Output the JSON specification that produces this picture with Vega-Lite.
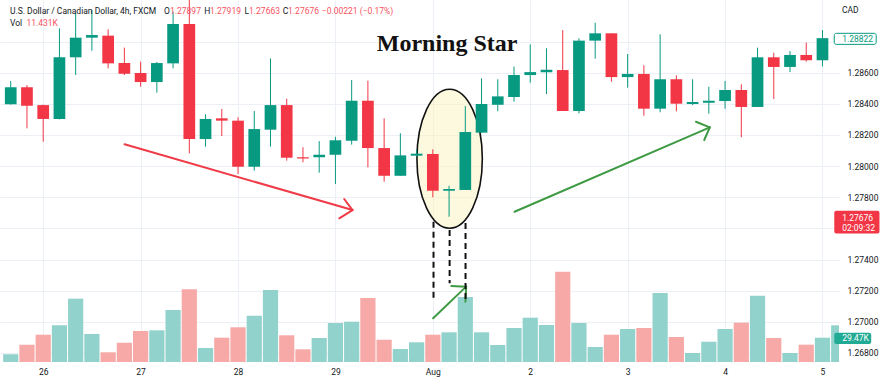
{
  "$schema": "https://vega.github.io/schema/vega-lite/v6.json",
  "width": 839,
  "height": 362,
  "autosize": {"type": "none"},
  "padding": {"left": 0, "top": 0, "right": 49, "bottom": 21},
  "background": "white",
  "config": {"view": {"stroke": null}, "font": "Roboto"},
  "datasets": {
    "candles": [
      {"i": 0, "o": 1.28397, "h": 1.28547, "l": 1.28395, "c": 1.28506, "d": "up"},
      {"i": 1, "o": 1.28506, "h": 1.28521, "l": 1.28243, "c": 1.28388, "d": "down"},
      {"i": 2, "o": 1.28392, "h": 1.28395, "l": 1.28157, "c": 1.28303, "d": "down"},
      {"i": 3, "o": 1.28303, "h": 1.28885, "l": 1.283, "c": 1.28699, "d": "up"},
      {"i": 4, "o": 1.28699, "h": 1.28985, "l": 1.28585, "c": 1.28825, "d": "up"},
      {"i": 5, "o": 1.28825, "h": 1.29003, "l": 1.28741, "c": 1.28842, "d": "up"},
      {"i": 6, "o": 1.28838, "h": 1.28879, "l": 1.28628, "c": 1.2866, "d": "down"},
      {"i": 7, "o": 1.28662, "h": 1.28761, "l": 1.28585, "c": 1.28594, "d": "down"},
      {"i": 8, "o": 1.28598, "h": 1.28671, "l": 1.2851, "c": 1.2854, "d": "down"},
      {"i": 9, "o": 1.2854, "h": 1.28669, "l": 1.28472, "c": 1.28662, "d": "up"},
      {"i": 10, "o": 1.2866, "h": 1.28992, "l": 1.28628, "c": 1.28913, "d": "up"},
      {"i": 11, "o": 1.28913, "h": 1.2908, "l": 1.28082, "c": 1.28174, "d": "down"},
      {"i": 12, "o": 1.28174, "h": 1.28333, "l": 1.28125, "c": 1.28303, "d": "up"},
      {"i": 13, "o": 1.28307, "h": 1.28367, "l": 1.28193, "c": 1.28292, "d": "down"},
      {"i": 14, "o": 1.28292, "h": 1.28314, "l": 1.27949, "c": 1.27996, "d": "down"},
      {"i": 15, "o": 1.27996, "h": 1.28354, "l": 1.27971, "c": 1.28238, "d": "up"},
      {"i": 16, "o": 1.28234, "h": 1.28692, "l": 1.28125, "c": 1.28392, "d": "up"},
      {"i": 17, "o": 1.28392, "h": 1.28433, "l": 1.28035, "c": 1.28054, "d": "down"},
      {"i": 18, "o": 1.28057, "h": 1.28121, "l": 1.28025, "c": 1.28049, "d": "down"},
      {"i": 19, "o": 1.28057, "h": 1.28161, "l": 1.27958, "c": 1.28073, "d": "up"},
      {"i": 20, "o": 1.28073, "h": 1.28189, "l": 1.27885, "c": 1.28166, "d": "up"},
      {"i": 21, "o": 1.28163, "h": 1.28553, "l": 1.28138, "c": 1.2842, "d": "up"},
      {"i": 22, "o": 1.2842, "h": 1.28549, "l": 1.27992, "c": 1.28116, "d": "down"},
      {"i": 23, "o": 1.28116, "h": 1.28307, "l": 1.279, "c": 1.27938, "d": "down"},
      {"i": 24, "o": 1.27938, "h": 1.28211, "l": 1.27938, "c": 1.28069, "d": "up"},
      {"i": 25, "o": 1.28067, "h": 1.28108, "l": 1.2806, "c": 1.2808, "d": "up"},
      {"i": 26, "o": 1.28078, "h": 1.28108, "l": 1.278, "c": 1.27842, "d": "down"},
      {"i": 27, "o": 1.27842, "h": 1.27874, "l": 1.27675, "c": 1.27853, "d": "up"},
      {"i": 28, "o": 1.27847, "h": 1.28386, "l": 1.27847, "c": 1.28219, "d": "up"},
      {"i": 29, "o": 1.28215, "h": 1.28564, "l": 1.28215, "c": 1.28399, "d": "up"},
      {"i": 30, "o": 1.28394, "h": 1.28558, "l": 1.28352, "c": 1.28448, "d": "up"},
      {"i": 31, "o": 1.28444, "h": 1.28639, "l": 1.28414, "c": 1.28585, "d": "up"},
      {"i": 32, "o": 1.28585, "h": 1.28782, "l": 1.28536, "c": 1.28604, "d": "up"},
      {"i": 33, "o": 1.28603, "h": 1.28757, "l": 1.28463, "c": 1.28619, "d": "up"},
      {"i": 34, "o": 1.28617, "h": 1.28874, "l": 1.28354, "c": 1.28354, "d": "down"},
      {"i": 35, "o": 1.28354, "h": 1.28821, "l": 1.28339, "c": 1.28806, "d": "up"},
      {"i": 36, "o": 1.28806, "h": 1.28921, "l": 1.2869, "c": 1.28853, "d": "up"},
      {"i": 37, "o": 1.28853, "h": 1.28853, "l": 1.28542, "c": 1.28572, "d": "down"},
      {"i": 38, "o": 1.28572, "h": 1.2872, "l": 1.28504, "c": 1.28592, "d": "up"},
      {"i": 39, "o": 1.28592, "h": 1.28648, "l": 1.28324, "c": 1.28369, "d": "down"},
      {"i": 40, "o": 1.28369, "h": 1.28847, "l": 1.28346, "c": 1.28558, "d": "up"},
      {"i": 41, "o": 1.28558, "h": 1.28583, "l": 1.28352, "c": 1.28401, "d": "down"},
      {"i": 42, "o": 1.28399, "h": 1.28558, "l": 1.28392, "c": 1.28412, "d": "up"},
      {"i": 43, "o": 1.28407, "h": 1.2851, "l": 1.28337, "c": 1.2842, "d": "up"},
      {"i": 44, "o": 1.28418, "h": 1.28547, "l": 1.28369, "c": 1.28489, "d": "up"},
      {"i": 45, "o": 1.28489, "h": 1.28526, "l": 1.28185, "c": 1.2838, "d": "down"},
      {"i": 46, "o": 1.2838, "h": 1.28761, "l": 1.2838, "c": 1.28699, "d": "up"},
      {"i": 47, "o": 1.28699, "h": 1.28728, "l": 1.28431, "c": 1.28637, "d": "down"},
      {"i": 48, "o": 1.28637, "h": 1.28739, "l": 1.28604, "c": 1.28714, "d": "up"},
      {"i": 49, "o": 1.28714, "h": 1.28793, "l": 1.28671, "c": 1.2868, "d": "down"},
      {"i": 50, "o": 1.2868, "h": 1.28874, "l": 1.28641, "c": 1.28822, "d": "up"}
    ],
    "volume": [
      {"i": 0, "v": 9.3, "d": "up"}, {"i": 1, "v": 21.0, "d": "down"}, {"i": 2, "v": 33.1, "d": "down"},
      {"i": 3, "v": 44.5, "d": "up"}, {"i": 4, "v": 76.8, "d": "up"}, {"i": 5, "v": 34.0, "d": "up"},
      {"i": 6, "v": 11.8, "d": "down"}, {"i": 7, "v": 23.4, "d": "down"}, {"i": 8, "v": 37.6, "d": "down"},
      {"i": 9, "v": 38.4, "d": "up"}, {"i": 10, "v": 63.1, "d": "up"}, {"i": 11, "v": 88.2, "d": "down"},
      {"i": 12, "v": 17.0, "d": "up"}, {"i": 13, "v": 29.5, "d": "down"}, {"i": 14, "v": 42.1, "d": "down"},
      {"i": 15, "v": 56.1, "d": "up"}, {"i": 16, "v": 87.3, "d": "up"}, {"i": 17, "v": 32.4, "d": "down"},
      {"i": 18, "v": 15.4, "d": "down"}, {"i": 19, "v": 29.1, "d": "up"}, {"i": 20, "v": 47.3, "d": "up"},
      {"i": 21, "v": 48.9, "d": "up"}, {"i": 22, "v": 77.6, "d": "down"}, {"i": 23, "v": 27.0, "d": "down"},
      {"i": 24, "v": 15.8, "d": "up"}, {"i": 25, "v": 23.9, "d": "up"}, {"i": 26, "v": 33.1, "d": "down"},
      {"i": 27, "v": 36.0, "d": "up"}, {"i": 28, "v": 78.8, "d": "up"}, {"i": 29, "v": 36.0, "d": "up"},
      {"i": 30, "v": 20.6, "d": "up"}, {"i": 31, "v": 41.2, "d": "up"}, {"i": 32, "v": 53.7, "d": "up"},
      {"i": 33, "v": 44.9, "d": "up"}, {"i": 34, "v": 109.5, "d": "down"}, {"i": 35, "v": 47.3, "d": "up"},
      {"i": 36, "v": 18.2, "d": "up"}, {"i": 37, "v": 33.1, "d": "down"}, {"i": 38, "v": 40.0, "d": "up"},
      {"i": 39, "v": 41.2, "d": "down"}, {"i": 40, "v": 83.7, "d": "up"}, {"i": 41, "v": 30.3, "d": "down"},
      {"i": 42, "v": 10.9, "d": "up"}, {"i": 43, "v": 24.6, "d": "up"}, {"i": 44, "v": 40.0, "d": "up"},
      {"i": 45, "v": 47.7, "d": "down"}, {"i": 46, "v": 80.4, "d": "up"}, {"i": 47, "v": 29.1, "d": "down"},
      {"i": 48, "v": 10.9, "d": "up"}, {"i": 49, "v": 21.0, "d": "down"}, {"i": 50, "v": 29.47, "d": "up"},
      {"i": 51, "v": 44.5, "d": "up"}
    ],
    "arrows": [
      {"i": 7.011, "p": 1.2814, "i2": 21.052, "p2": 1.27718, "k": "red"},
      {"i": 20.54, "p": 1.27789, "i2": 21.052, "p2": 1.27718, "k": "red"},
      {"i": 20.236, "p": 1.27665, "i2": 21.052, "p2": 1.27718, "k": "red"},
      {"i": 31.033, "p": 1.27707, "i2": 43.059, "p2": 1.28249, "k": "green"},
      {"i": 42.207, "p": 1.28285, "i2": 43.059, "p2": 1.28249, "k": "green"},
      {"i": 42.718, "p": 1.28168, "i2": 43.059, "p2": 1.28249, "k": "green"},
      {"i": 26.018, "p": 1.27023, "i2": 28.051, "p2": 1.27226, "k": "green"},
      {"i": 27.138, "p": 1.2723, "i2": 28.051, "p2": 1.27226, "k": "green"},
      {"i": 28.008, "p": 1.27129, "i2": 28.051, "p2": 1.27226, "k": "green"}
    ],
    "dashes": [
      {"i": 26.042, "p": 1.27643, "i2": 26.042, "p2": 1.27145},
      {"i": 27.034, "p": 1.2759, "i2": 27.034, "p2": 1.27247},
      {"i": 28.014, "p": 1.27635, "i2": 28.014, "p2": 1.27129}
    ],
    "texts": [
      {"i": -0.049, "p": 1.28996, "text": "U.S. Dollar / Canadian Dollar, 4h, FXCM", "k": "dark"},
      {"i": 9.445, "p": 1.28996, "text": "O", "k": "dark"},
      {"i": 9.811, "p": 1.28996, "text": "1.27897", "k": "red"},
      {"i": 11.923, "p": 1.28996, "text": "H", "k": "dark"},
      {"i": 12.276, "p": 1.28996, "text": "1.27919", "k": "red"},
      {"i": 14.393, "p": 1.28996, "text": "L", "k": "dark"},
      {"i": 14.68, "p": 1.28996, "text": "1.27663", "k": "red"},
      {"i": 16.749, "p": 1.28996, "text": "C", "k": "dark"},
      {"i": 17.084, "p": 1.28996, "text": "1.27676", "k": "red"},
      {"i": 19.165, "p": 1.28996, "text": "−0.00221 (−0.17%)", "k": "red"},
      {"i": -0.049, "p": 1.28921, "text": "Vol", "k": "dark"},
      {"i": 0.968, "p": 1.28921, "text": "11.431K", "k": "red"},
      {"i": 51.196, "p": 1.29003, "text": "CAD", "k": "dark"},
      {"i": 51.214, "p": 1.28818, "text": "1.28822", "k": "teal"},
      {"i": 51.214, "p": 1.27669, "text": "1.27676", "k": "white"},
      {"i": 51.214, "p": 1.27604, "text": "02:09:32", "k": "white"},
      {"i": 51.214, "p": 1.26894, "text": "29.47K", "k": "white"}
    ]
  },
  "encoding": {
    "x": {
      "field": "i",
      "type": "quantitative",
      "scale": {"domain": [-0.353, 50.71], "nice": false, "zero": false},
      "axis": {
        "values": [2, 8, 14, 20, 26, 32, 38, 44, 50],
        "labelExpr": "['26','27','28','29','Aug','2','3','4','5'][round((datum.value-2)/6)]",
        "grid": true,
        "gridColor": "#eceff5",
        "ticks": false,
        "domain": false,
        "title": null,
        "labelPadding": 9.7,
        "labelBaseline": "middle",
        "labelFontSize": 8.5,
        "labelColor": "#131722",
        "labelFont": "Roboto",
        "labelFlush": false,
        "labelOverlap": false,
        "labelBound": false
      }
    }
  },
  "layer": [
    {
      "data": {"name": "volume"},
      "mark": {"type": "bar", "width": 15.2, "clip": true},
      "encoding": {
        "y": {"field": "v", "type": "quantitative", "scale": {"domain": [0, 439], "nice": false}, "axis": null},
        "color": {"field": "d", "type": "nominal", "scale": {"domain": ["up", "down"], "range": ["#92d2cc", "#f7a9a7"]}, "legend": null}
      }
    },
    {
      "data": {"values": [{"i": 27.034, "p": 1.28047}]},
      "mark": {
        "type": "point",
        "shape": "M 0 -1 C 0.2599 -1 0.4705 -0.5523 0.4705 0 C 0.4705 0.5523 0.2599 1 0 1 C -0.2599 1 -0.4705 0.5523 -0.4705 0 C -0.4705 -0.5523 -0.2599 -1 0 -1 Z",
        "size": 19321,
        "filled": true,
        "fill": "#fbf3bd",
        "fillOpacity": 0.5,
        "stroke": "#111111",
        "strokeWidth": 1.6,
        "opacity": 1
      },
      "encoding": {
        "y": {
          "field": "p",
          "type": "quantitative",
          "scale": {"domain": [1.26742, 1.29067], "nice": false, "zero": false},
          "axis": {
            "orient": "right",
            "values": [1.268, 1.27, 1.272, 1.274, 1.276, 1.278, 1.28, 1.282, 1.284, 1.286, 1.288],
            "format": ".5f",
            "labelExpr": "(datum.label == '1.27600' || datum.label == '1.28800') ? '' : datum.label",
            "grid": true,
            "gridColor": "#eceff5",
            "ticks": false,
            "domain": false,
            "title": null,
            "labelPadding": 8,
            "labelFontSize": 8.5,
            "labelColor": "#131722",
            "labelFont": "Roboto",
            "labelOverlap": false,
            "labelBound": false,
            "labelFlush": false
          }
        }
      }
    },
    {
      "data": {"name": "candles"},
      "mark": {"type": "rule", "strokeWidth": 1, "clip": true},
      "encoding": {
        "y": {"field": "l", "type": "quantitative", "scale": {"domain": [1.26742, 1.29067], "nice": false, "zero": false}, "axis": null},
        "y2": {"field": "h"},
        "color": {"field": "d", "type": "nominal", "scale": {"domain": ["up", "down"], "range": ["#089981", "#f23645"]}, "legend": null}
      }
    },
    {
      "data": {"name": "candles"},
      "mark": {"type": "bar", "width": 11.7, "clip": true},
      "encoding": {
        "y": {"field": "o", "type": "quantitative", "scale": {"domain": [1.26742, 1.29067], "nice": false, "zero": false}, "axis": null},
        "y2": {"field": "c"},
        "color": {"field": "d", "type": "nominal", "scale": {"domain": ["up", "down"], "range": ["#089981", "#f23645"]}, "legend": null}
      }
    },
    {
      "data": {"name": "arrows"},
      "mark": {"type": "rule", "strokeWidth": 2, "strokeCap": "round"},
      "encoding": {
        "x2": {"field": "i2"},
        "y": {"field": "p", "type": "quantitative", "scale": {"domain": [1.26742, 1.29067], "nice": false, "zero": false}, "axis": null},
        "y2": {"field": "p2"},
        "color": {"field": "k", "type": "nominal", "scale": {"domain": ["red", "green"], "range": ["#ef3b47", "#3f9a44"]}, "legend": null}
      }
    },
    {
      "data": {"name": "dashes"},
      "mark": {"type": "rule", "strokeWidth": 2, "strokeDash": [6, 4], "color": "#111111"},
      "encoding": {
        "x2": {"field": "i2"},
        "y": {"field": "p", "type": "quantitative", "scale": {"domain": [1.26742, 1.29067], "nice": false, "zero": false}, "axis": null},
        "y2": {"field": "p2"}
      }
    },
    {
      "data": {"values": [{"i": 26.88, "p": 1.28739, "text": "Morning Star"}]},
      "mark": {"type": "text", "font": "Liberation Serif", "fontWeight": "bold", "fontSize": 24, "align": "center", "baseline": "alphabetic", "color": "#111111"},
      "encoding": {
        "y": {"field": "p", "type": "quantitative", "scale": {"domain": [1.26742, 1.29067], "nice": false, "zero": false}, "axis": null},
        "text": {"field": "text"}
      }
    },
    {
      "data": {"values": [{"i": 50.727, "p": 1.28853, "i2": 53.308, "p2": 1.28782}]},
      "mark": {"type": "rect", "fill": "#ffffff", "stroke": "#089981", "strokeWidth": 1, "cornerRadius": 2},
      "encoding": {
        "x2": {"field": "i2"},
        "y": {"field": "p", "type": "quantitative", "scale": {"domain": [1.26742, 1.29067], "nice": false, "zero": false}, "axis": null},
        "y2": {"field": "p2"}
      }
    },
    {
      "data": {"values": [
        {"i": 50.727, "p": 1.27714, "i2": 53.51, "p2": 1.27568, "k": "red"},
        {"i": 50.727, "p": 1.2693, "i2": 53.0, "p2": 1.26857, "k": "teal"}
      ]},
      "mark": {"type": "rect", "cornerRadius": 2},
      "encoding": {
        "x2": {"field": "i2"},
        "y": {"field": "p", "type": "quantitative", "scale": {"domain": [1.26742, 1.29067], "nice": false, "zero": false}, "axis": null},
        "y2": {"field": "p2"},
        "color": {"field": "k", "type": "nominal", "scale": {"domain": ["red", "teal"], "range": ["#f23645", "#22ab94"]}, "legend": null}
      }
    },
    {
      "data": {"name": "texts"},
      "mark": {"type": "text", "font": "Roboto", "fontSize": 8.5, "align": "left", "baseline": "middle"},
      "encoding": {
        "y": {"field": "p", "type": "quantitative", "scale": {"domain": [1.26742, 1.29067], "nice": false, "zero": false}, "axis": null},
        "text": {"field": "text"},
        "color": {"field": "k", "type": "nominal", "scale": {"domain": ["dark", "red", "teal", "white"], "range": ["#131722", "#f7525f", "#089981", "#ffffff"]}, "legend": null}
      }
    }
  ],
  "resolve": {"scale": {"y": "independent", "color": "independent"}, "axis": {"y": "independent"}}
}
